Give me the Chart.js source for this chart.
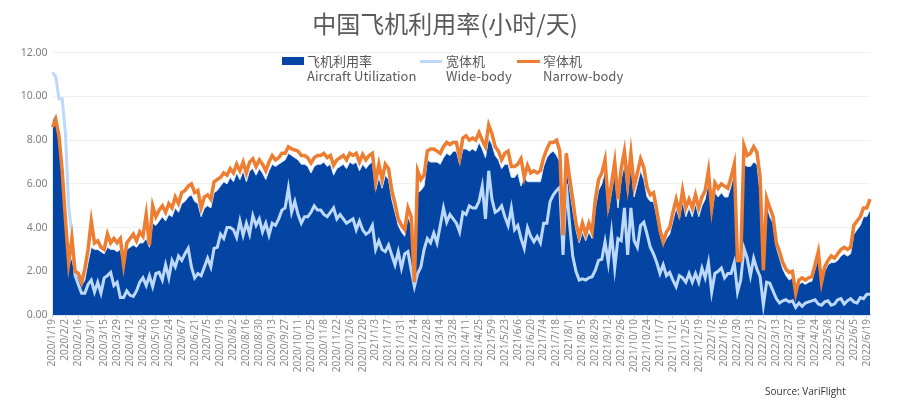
<!DOCTYPE html>
<html>
<head>
<meta charset="utf-8">
<title>中国飞机利用率</title>
<script src="https://cdn.jsdelivr.net/npm/chart.js@4"></script>
<style>
  body { margin: 0; background: #fff; }
  #wrap { position: relative; width: 900px; height: 409px; }
  #source { position: absolute; left: 765px; top: 384px; font: 10px "Open Sans", sans-serif; color: #333; }
  .swatch { position: absolute; }
  .legendText { position: absolute; top: 53px; font: 13px/15px "Noto Sans CJK SC", "Noto Sans", sans-serif; color: #595959; white-space: pre; }
</style>
</head>
<body>
<div id="wrap">
  <canvas id="chart1" width="900" height="409"></canvas>
  <div id="source">Source: VariFlight</div>
</div>
<script>
// one label every 14 days, 4 readings per label
const tickLabels = [
  '2020/1/19','2020/2/2','2020/2/16','2020/3/1','2020/3/15','2020/3/29','2020/4/12','2020/4/26','2020/5/10','2020/5/24',
  '2020/6/7','2020/6/21','2020/7/5','2020/7/19','2020/8/2','2020/8/16','2020/8/30','2020/9/13','2020/9/27','2020/10/11',
  '2020/10/25','2020/11/8','2020/11/22','2020/12/6','2020/12/20','2021/1/3','2021/1/17','2021/1/31','2021/2/14','2021/2/28',
  '2021/3/14','2021/3/28','2021/4/11','2021/4/25','2021/5/9','2021/5/23','2021/6/6','2021/6/20','2021/7/4','2021/7/18',
  '2021/8/1','2021/8/15','2021/8/29','2021/9/12','2021/9/26','2021/10/10','2021/10/24','2021/11/7','2021/11/21','2021/12/5',
  '2021/12/19','2022/1/2','2022/1/16','2022/1/30','2022/2/13','2022/2/27','2022/3/13','2022/3/27','2022/4/10','2022/4/24',
  '2022/5/8','2022/5/22','2022/6/5','2022/6/19'
];
const yTicks = [0, 2, 4, 6, 8, 10, 12];

const utilization = [
  8.9,9.2,8.0,6.6, 4.2,2.3,2.6,1.9, 1.7,1.35,1.6,2.4, 3.1,3.0,3.0,2.9,
  2.8,3.1,3.0,3.0, 2.9,3.0,2.2,3.0, 3.1,3.2,3.1,3.3, 3.3,3.5,3.1,4.2,
  4.1,4.3,4.5,4.3, 4.6,4.5,4.9,4.7, 5.1,5.2,5.4,5.5, 5.2,5.1,4.5,4.9,
  5.0,4.9,5.6,5.7, 5.9,6.1,6.0,6.3, 6.1,6.5,6.2,6.6, 6.1,6.6,6.7,6.4,
  6.7,6.5,6.2,6.6, 6.9,6.8,6.9,7.0, 7.1,7.4,7.3,7.2, 7.1,6.9,6.9,6.8,
  6.5,6.8,6.9,6.9, 7.0,6.8,6.9,6.4, 6.7,6.8,6.9,6.7, 7.0,6.9,7.0,6.6,
  6.9,6.7,6.9,7.0, 5.7,6.3,5.8,6.4, 6.2,5.3,4.7,4.1, 3.8,3.6,4.5,4.1,
  1.3,5.6,5.7,5.9, 7.1,7.0,7.0,7.0, 6.9,7.2,7.4,7.3, 7.5,7.5,6.9,7.6,
  7.6,7.5,7.6,7.5, 7.9,7.6,7.2,8.1, 7.8,7.3,7.1,6.7, 6.9,6.9,6.3,6.3,
  6.5,5.9,6.3,6.1, 6.1,6.1,6.1,6.1, 6.8,7.2,7.4,7.5, 7.3,7.0,4.0,6.9,
  5.8,4.8,3.9,3.3, 3.8,3.4,3.8,3.5, 4.9,5.7,6.0,6.6, 4.7,5.6,6.5,4.9,
  6.2,6.9,5.5,6.9, 5.4,6.0,6.6,6.2, 5.4,5.2,5.2,4.5, 3.7,3.2,3.5,3.7,
  4.3,4.9,4.4,5.2, 4.5,4.9,4.5,5.1, 4.5,5.0,5.3,6.1, 4.6,5.6,5.4,5.6,
  5.4,5.4,5.9,6.6, 2.5,2.5,6.9,6.8, 6.8,7.0,6.9,5.6, 2.05,5.0,4.5,4.2,
  3.1,2.6,2.1,1.8, 1.6,1.7,1.0,1.4, 1.5,1.4,1.5,1.55, 2.1,2.6,1.4,2.0,
  2.3,2.4,2.4,2.5, 2.7,2.8,2.7,2.8, 3.7,3.9,4.1,4.5, 4.5,4.8
];

const wideBody = [
  11.1,10.9,9.9,9.9, 8.3,5.0,3.7,1.8, 1.4,1.0,1.0,1.4, 1.6,1.05,1.5,1.0,
  1.7,1.8,1.95,1.35, 1.5,0.8,0.8,1.1, 0.9,0.85,1.1,1.5, 1.7,1.35,1.8,1.3,
  1.9,1.95,1.6,2.3, 1.7,2.5,2.2,2.7, 2.5,2.8,3.05,2.2, 1.7,1.9,1.8,2.2,
  2.6,2.2,3.05,3.1, 3.7,3.5,4.0,4.0, 3.9,3.55,4.3,3.65, 4.2,3.7,4.55,4.1,
  4.4,3.8,4.2,3.65, 4.2,4.1,4.4,4.8, 4.9,5.8,4.7,5.2, 4.6,4.2,4.5,4.5,
  4.7,5.0,4.8,4.8, 4.6,4.5,4.7,4.9, 4.4,4.6,4.4,4.2, 4.3,4.4,3.9,4.3,
  3.9,3.7,3.8,4.1, 3.0,3.4,3.0,2.9, 3.2,2.75,2.3,2.9, 2.15,2.8,2.9,2.05,
  1.3,1.9,2.2,3.0, 3.5,3.3,3.75,3.3, 4.1,4.9,4.25,4.6, 4.4,4.2,3.8,4.7,
  4.6,5.0,4.9,4.9, 5.2,5.9,4.4,6.6, 5.3,4.7,4.8,5.0, 4.5,4.1,4.9,3.9,
  4.1,3.5,3.05,4.0, 3.6,3.35,3.6,3.3, 4.2,4.2,5.2,5.5, 5.7,5.85,2.75,6.0,
  4.2,2.7,2.0,1.6, 1.65,1.6,1.7,1.75, 2.05,2.5,2.55,3.35, 2.4,3.75,2.15,3.5,
  3.4,4.9,2.75,4.9, 3.4,3.1,4.1,4.25, 3.7,3.1,2.8,2.4, 1.9,2.3,1.8,1.95,
  1.6,1.3,1.8,1.7, 1.5,1.9,1.5,1.9, 1.5,2.15,1.7,2.4, 1.05,1.9,2.0,2.15,
  1.7,1.9,1.9,2.4, 1.05,1.6,3.05,2.6, 1.8,2.6,2.1,1.75, 0.45,1.5,1.45,1.1,
  0.75,0.55,0.65,0.7, 0.6,0.65,0.35,0.55, 0.4,0.55,0.6,0.65, 0.7,0.5,0.45,0.6,
  0.65,0.45,0.5,0.7, 0.75,0.5,0.65,0.75, 0.6,0.55,0.8,0.75, 0.95,0.95
];

const narrowBody = [
  8.6,8.95,8.2,6.6, 4.4,2.4,3.5,2.0, 1.9,1.5,2.1,3.0, 4.3,3.3,3.4,3.1,
  3.0,3.7,3.3,3.5, 3.3,3.5,2.3,3.3, 3.5,3.7,3.4,3.8, 3.6,4.6,3.2,5.0,
  4.5,4.8,5.0,4.7, 5.1,4.9,5.4,5.1, 5.6,5.7,5.9,6.0, 5.6,5.7,4.9,5.4,
  5.5,5.3,6.1,6.2, 6.3,6.5,6.4,6.7, 6.5,6.9,6.6,7.0, 6.5,7.0,7.15,6.8,
  7.1,6.9,6.6,7.0, 7.3,7.1,7.2,7.4, 7.4,7.7,7.6,7.55, 7.5,7.3,7.3,7.2,
  6.95,7.2,7.3,7.3, 7.4,7.2,7.3,6.85, 7.1,7.2,7.3,7.1, 7.4,7.3,7.4,7.0,
  7.35,7.1,7.3,7.4, 6.1,6.9,6.2,6.9, 6.7,5.7,5.1,4.4, 4.1,3.9,4.9,4.5,
  1.5,6.6,6.2,6.4, 7.5,7.6,7.6,7.5, 7.4,7.7,7.9,7.8, 7.9,7.9,7.2,8.1,
  8.2,8.0,8.1,8.0, 8.35,8.0,7.7,8.7, 8.3,7.7,7.5,7.1, 7.4,7.5,6.8,6.8,
  6.9,7.15,6.3,6.85, 6.5,6.6,6.5,6.6, 7.2,7.6,7.9,7.9, 8.0,7.5,3.65,7.4,
  6.3,5.3,4.2,3.6, 4.2,3.7,4.2,3.8, 5.3,6.2,6.5,7.1, 5.1,6.0,7.0,5.3,
  6.7,7.5,6.0,7.4, 5.9,6.5,7.15,6.75, 5.85,5.5,5.6,4.8, 3.9,3.35,3.8,4.0,
  4.7,5.3,4.7,5.7, 4.9,5.3,4.9,5.5, 4.9,5.4,5.7,6.6, 4.9,6.05,5.8,6.0,
  5.9,5.8,6.3,6.9, 2.5,2.5,7.75,7.3, 7.4,7.7,7.45,6.3, 2.05,5.35,4.9,4.5,
  3.3,2.9,2.4,2.1, 1.95,2.0,1.0,1.6, 1.7,1.6,1.7,1.75, 2.3,2.9,1.5,2.2,
  2.5,2.7,2.6,2.8, 3.0,3.1,3.0,3.1, 4.1,4.3,4.5,4.9, 4.9,5.3
];

const seriesNames = ['飞机利用率\nAircraft Utilization', '宽体机\nWide-body', '窄体机\nNarrow-body'];

const BLUE = '#0445a4';
const LIGHT = '#bcd8fb';
const ORANGE = '#ed7d31';

// labels only on every 4th reading
const categories = utilization.map((v, i) => i % 4 === 0 ? tickLabels[i / 4] : '');

new Chart(document.getElementById('chart1'), {
  type: 'line',
  data: {
    labels: categories,
    datasets: [
      { label: seriesNames[0], data: utilization, order: 3, backgroundColor: BLUE, borderColor: '#d8e8fb', borderWidth: 1, fill: 'origin' },
      { label: seriesNames[1], data: wideBody, order: 2, borderColor: LIGHT, borderWidth: 3 },
      { label: seriesNames[2], data: narrowBody, order: 1, borderColor: ORANGE, borderWidth: 3.5 }
    ]
  },
  options: {
    responsive: false,
    animation: false,
    elements: { point: { radius: 0 }, line: { tension: 0 } },
    layout: { padding: { left: 20, right: 30, top: 0, bottom: 0 } },
    scales: {
      x: {
        afterFit: scale => { scale.height = 94; },
        border: { color: LIGHT, width: 1.5 },
        grid: {
          color: 'transparent',
          tickLength: 3,
          tickColor: ctx => ctx.index % 4 === 0 ? '#cfcfcf' : 'transparent'
        },
        ticks: {
          autoSkip: false, minRotation: 90, maxRotation: 90, padding: 1,
          color: '#8a8a8a', font: { family: '"Noto Sans", sans-serif', size: 10 }
        }
      },
      y: {
        min: 0,
        max: 12,
        afterFit: scale => { scale.width = 32.5; },
        afterBuildTicks: scale => { scale.ticks = yTicks.map(v => ({ value: v })); },
        border: { display: false },
        grid: { color: '#f1f1f1', drawTicks: false },
        ticks: {
          padding: 5, color: '#7f7f7f',
          font: { family: '"Noto Sans", sans-serif', size: 10.5 },
          callback: v => v.toFixed(2)
        }
      }
    },
    plugins: {
      tooltip: { enabled: false },
      legend: { display: false },
      title: {
        display: true,
        text: '中国飞机利用率(小时/天)',
        color: '#595959',
        font: { family: '"Noto Sans CJK SC", "Noto Sans", sans-serif', size: 24, weight: 'normal' },
        padding: { top: 9, bottom: 15 }
      }
    }
  }
});

// legend sits inside the plot, keys and two line labels as page elements
const wrap = document.getElementById('wrap');
const legendKeys = [
  { x: 282, y: 57, w: 22, h: 8, color: BLUE, textX: 307 },
  { x: 420, y: 59.5, w: 22, h: 3, color: LIGHT, textX: 446 },
  { x: 517, y: 59.5, w: 23, h: 3, color: ORANGE, textX: 543 }
];
legendKeys.forEach((k, i) => {
  const box = document.createElement('div');
  box.className = 'swatch';
  box.style.cssText = `left:${k.x}px;top:${k.y}px;width:${k.w}px;height:${k.h}px;background:${k.color}`;
  wrap.appendChild(box);
  const txt = document.createElement('div');
  txt.className = 'legendText';
  txt.style.left = k.textX + 'px';
  txt.textContent = seriesNames[i];
  wrap.appendChild(txt);
});
</script>
</body>
</html>
